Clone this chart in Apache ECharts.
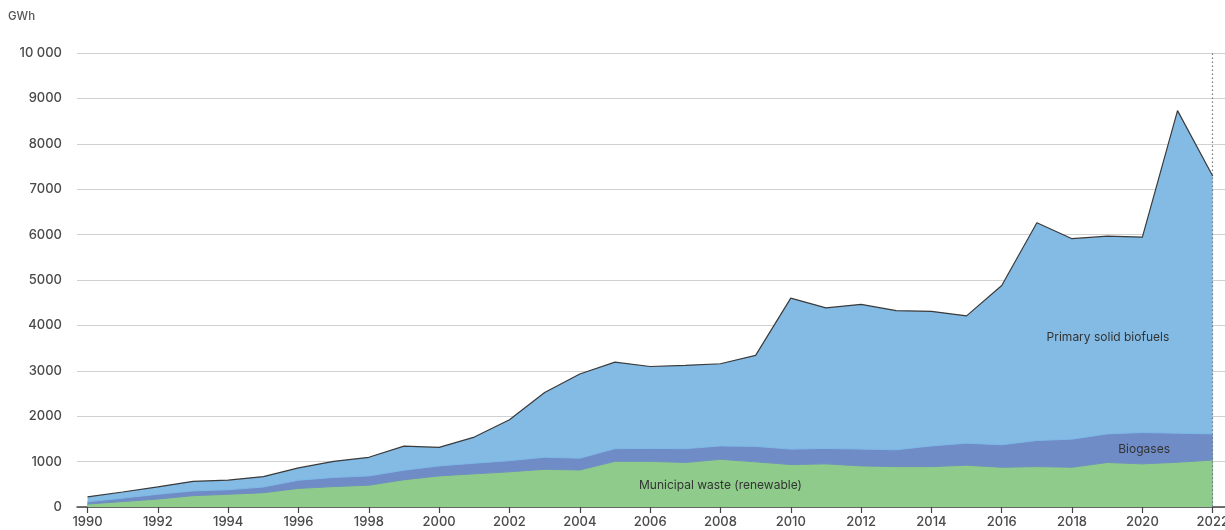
<!DOCTYPE html>
<html>
<head>
<meta charset="utf-8">
<script src="https://cdn.jsdelivr.net/npm/echarts@6/dist/echarts.min.js"></script>
<style>
html,body{margin:0;padding:0;background:#fff;}
#chart{width:1225px;height:530px;}
</style>
</head>
<body>
<div id="chart"></div>
<script>
const years = [1990,1991,1992,1993,1994,1995,1996,1997,1998,1999,2000,2001,2002,2003,2004,2005,2006,2007,2008,2009,2010,2011,2012,2013,2014,2015,2016,2017,2018,2019,2020,2021,2022];
const municipalWaste = [65,120,175,250,280,315,410,450,480,600,685,730,775,830,815,1005,1005,980,1050,995,935,950,905,890,890,920,875,890,875,980,950,985,1035];
const biogases = [50,75,105,105,100,125,180,200,205,210,220,235,245,265,260,280,285,305,295,340,340,340,370,370,455,485,495,575,620,630,690,640,575];
const solidBiofuels = [110,135,165,210,210,230,270,355,410,530,410,575,900,1425,1855,1905,1805,1835,1810,2005,3325,3095,3190,3065,2965,2805,3510,4795,4415,4355,4305,7105,5680];
const xTicks = [1990,1992,1994,1996,1998,2000,2002,2004,2006,2008,2010,2012,2014,2016,2018,2020,2022];
const seriesNames = ['Municipal waste (renewable)','Biogases','Primary solid biofuels'];

const topMunicipal = municipalWaste.slice();
const topBiogases = municipalWaste.map((v,i)=>v+biogases[i]);
const topSolid = topBiogases.map((v,i)=>v+solidBiofuels[i]);
const pairs = arr => years.map((y,i)=>[y,arr[i]]);
const FONT = 'Inter, "Open Sans", sans-serif';

const chart = echarts.init(document.getElementById('chart'));
chart.setOption({
  animation:false,
  backgroundColor:'#fff',
  grid:{left:77,right:0,top:53,bottom:23,containLabel:false,outerBoundsMode:'none'},
  xAxis:{
    type:'value', min:1989.7, max:2022.35,
    axisLine:{show:true,lineStyle:{color:'#444',width:1.5}},
    axisTick:{show:true,customValues:xTicks,length:6,lineStyle:{color:'#444',width:1.2}},
    axisLabel:{customValues:xTicks,margin:9,fontFamily:FONT,fontSize:13,fontWeight:500,color:'#4a4a4a',formatter:v=>String(v)},
    splitLine:{show:false}
  },
  yAxis:{
    type:'value', min:0, max:10000, interval:1000,
    axisLine:{show:false}, axisTick:{show:false},
    axisLabel:{margin:15,fontFamily:FONT,fontSize:13,fontWeight:500,color:'#4a4a4a',
      formatter:v=> v===10000 ? '10 000' : String(v)},
    splitLine:{lineStyle:{color:'#d0d0d0',width:1}},
    name:'GWh', nameLocation:'end', nameGap:0,
    nameTextStyle:{fontFamily:FONT,fontSize:11.5,fontWeight:500,color:'#555',align:'left',padding:[0,0,30,-69]}
  },
  series:[
    {name:seriesNames[2],type:'line',data:pairs(topSolid),symbol:'none',z:2,
     lineStyle:{color:'#3a3a3a',width:1.2},areaStyle:{color:'#84bbe4',opacity:1},
     markLine:{silent:true,symbol:'none',label:{show:false},
       lineStyle:{color:'#777',type:[1.5,2.5],width:1.2},data:[{xAxis:2022}]}},
    {name:seriesNames[1],type:'line',data:pairs(topBiogases),symbol:'none',z:3,
     lineStyle:{color:'#7db8e6',width:1},areaStyle:{color:'#6f8cc7',opacity:1}},
    {name:seriesNames[0],type:'line',data:pairs(topMunicipal),symbol:'none',z:4,
     lineStyle:{color:'#6f8fc0',width:1},areaStyle:{color:'#8fcb8b',opacity:1}}
  ]
});

const labels = [
  {text:seriesNames[2], at:[2019.02, 3730]},
  {text:seriesNames[1], at:[2020.05, 1258]},
  {text:seriesNames[0], at:[2008.0, 485]}
];
chart.setOption({graphic: labels.map(l=>{
  const p = chart.convertToPixel({gridIndex:0}, l.at);
  return {type:'text',x:p[0],y:p[1],z:10,style:{text:l.text,fontFamily:FONT,fontSize:12,fill:'#333',align:'center',verticalAlign:'middle'}};
})});
</script>
</body>
</html>
